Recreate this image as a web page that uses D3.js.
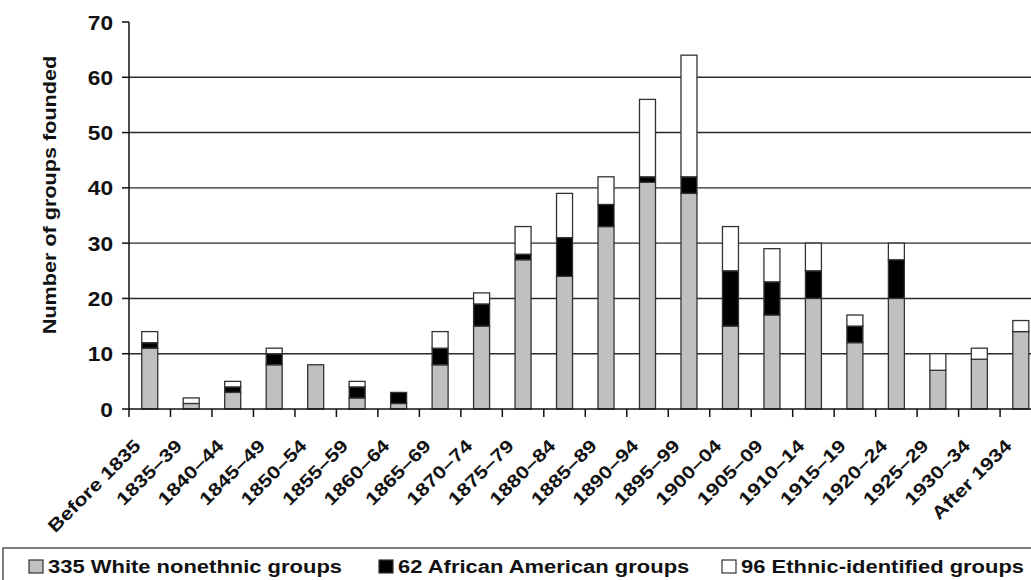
<!DOCTYPE html>
<html>
<head>
<meta charset="utf-8">
<script src="https://cdn.jsdelivr.net/npm/d3@7"></script>
<style>
  html, body { margin: 0; padding: 0; background: #fff; }
  svg { display: block; }
  text { font-family: "Liberation Sans", Arial, sans-serif; fill: #111; }
</style>
</head>
<body>
<script>
// ---- Data ----
const categories = ["Before 1835","1835–39","1840–44","1845–49","1850–54","1855–59","1860–64","1865–69",
  "1870–74","1875–79","1880–84","1885–89","1890–94","1895–99","1900–04","1905–09","1910–14",
  "1915–19","1920–24","1925–29","1930–34","After 1934"];
const whiteNonethnic = [11,1,3,8,8,2,1,8,15,27,24,33,41,39,15,17,20,12,20,7,9,14];
const africanAmerican = [1,0,1,2,0,2,2,3,4,1,7,4,1,3,10,6,5,3,7,0,0,0];
const ethnicIdentified = [2,1,1,1,0,1,0,3,2,5,8,5,14,22,8,6,5,2,3,3,2,2];
const yTicks = [0,10,20,30,40,50,60,70];
const seriesKeys = ["white","african","ethnic"];
const seriesLabels = ["335 White nonethnic groups","62 African American groups","96 Ethnic-identified groups"];
const seriesColors = ["#c0c0c0","#000000","#ffffff"];
const yTitle = "Number of groups founded";

// ---- Layout ----
const W = 1031, H = 580;
const x0 = 129, bandW = 41.48;
const svg = d3.select("body").append("svg").attr("width", W).attr("height", H);

const x = d3.scaleBand().domain(categories).range([x0, x0 + categories.length * bandW]);
const y = d3.scaleLinear().domain([0, 70]).range([409, 22]);

const rows = categories.map((c, i) => ({cat: c, white: whiteNonethnic[i], african: africanAmerican[i], ethnic: ethnicIdentified[i]}));
const stacked = d3.stack().keys(seriesKeys)(rows);
const color = d3.scaleOrdinal().domain(seriesKeys).range(seriesColors);

function stretch(sel, f) {
  sel.each(function() {
    const l = this.getComputedTextLength();
    d3.select(this).attr("textLength", l * f).attr("lengthAdjust", "spacingAndGlyphs");
  });
}

// gridlines
svg.append("g").selectAll("line").data(yTicks.filter(t => t > 0 && t < 70)).join("line")
  .attr("x1", x0).attr("x2", W).attr("y1", d => y(d)).attr("y2", d => y(d))
  .attr("stroke", "#2a2a2a").attr("stroke-width", 1.4);

// bars
const barW = 16;
svg.append("g").selectAll("g").data(stacked).join("g")
  .attr("fill", d => color(d.key))
  .selectAll("rect").data(d => d.filter(s => s[1] - s[0] > 0)).join("rect")
  .attr("x", d => x(d.data.cat) + x.bandwidth() / 2 - barW / 2)
  .attr("width", barW)
  .attr("y", d => y(d[1]))
  .attr("height", d => y(d[0]) - y(d[1]))
  .attr("stroke", "#333").attr("stroke-width", 1.3);

// y axis
const yAxis = svg.append("g");
yAxis.append("line").attr("x1", x0).attr("x2", x0).attr("y1", y(70)).attr("y2", y(0) + 8)
  .attr("stroke", "#111").attr("stroke-width", 1.5);
yAxis.selectAll("line.tick").data(yTicks).join("line").attr("class", "tick")
  .attr("x1", x0 - 7).attr("x2", x0).attr("y1", d => y(d)).attr("y2", d => y(d))
  .attr("stroke", "#111").attr("stroke-width", 1.5);
yAxis.selectAll("text").data(yTicks).join("text")
  .attr("x", 113).attr("y", d => y(d)).attr("dy", "0.36em")
  .attr("text-anchor", "end").attr("font-size", 21).attr("font-weight", "bold")
  .text(d => d)
  .call(stretch, 1.08);

// x axis
const xAxis = svg.append("g");
xAxis.append("line").attr("x1", x0).attr("x2", W).attr("y1", y(0)).attr("y2", y(0))
  .attr("stroke", "#111").attr("stroke-width", 1.5);
xAxis.selectAll("line.tick").data(categories.slice(1)).join("line").attr("class", "tick")
  .attr("x1", d => x(d)).attr("x2", d => x(d)).attr("y1", y(0)).attr("y2", y(0) + 8)
  .attr("stroke", "#111").attr("stroke-width", 1.5);
xAxis.selectAll("text").data(categories).join("text")
  .attr("transform", d => `translate(${x(d) + x.bandwidth() / 2 - 8},447) rotate(-45)`)
  .attr("text-anchor", "end").attr("font-size", 18).attr("font-weight", "bold")
  .text(d => d)
  .call(stretch, 1.2);

// y title
svg.append("text")
  .attr("transform", "translate(56,195) rotate(-90)")
  .attr("text-anchor", "middle").attr("font-size", 18).attr("font-weight", "bold")
  .text(yTitle)
  .call(stretch, 1.2);

// legend
svg.append("rect").attr("x", 3).attr("y", 548).attr("width", W + 10).attr("height", 50)
  .attr("fill", "none").attr("stroke", "#555").attr("stroke-width", 1.5);
const legX = [29, 379, 722];
const leg = svg.append("g").selectAll("g").data(seriesKeys).join("g")
  .attr("transform", (d, i) => `translate(${legX[i]},560)`);
leg.append("rect").attr("width", 14).attr("height", 13)
  .attr("fill", d => color(d)).attr("stroke", "#333").attr("stroke-width", 1.2);
leg.append("text").attr("x", 19).attr("y", 13)
  .attr("font-size", 18).attr("font-weight", "bold")
  .text((d, i) => seriesLabels[i])
  .call(stretch, 1.22);
</script>
</body>
</html>
